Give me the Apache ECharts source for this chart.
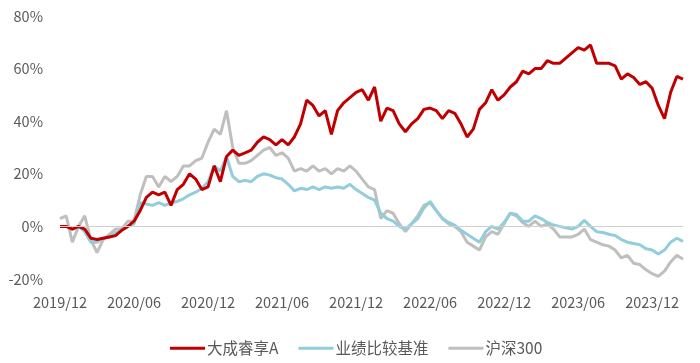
<!DOCTYPE html>
<html>
<head>
<meta charset="utf-8">
<script src="https://cdn.jsdelivr.net/npm/echarts@6/dist/echarts.min.js"></script>
<style>
html,body{margin:0;padding:0;background:#fff;}
#c{width:700px;height:363px;}
</style>
</head>
<body>
<div id="c"></div>
<script>
// Tick labels on the x axis (one every 12 half-month samples)
const tickLabels = ['2019/12','2020/06','2020/12','2021/06','2021/12','2022/06','2022/12','2023/06','2023/12'];

// Cumulative returns (%), sampled twice per month from 2019/12
const fundA = [
  0, 0, -1, 0, -1, -4.5, -5, -4.5, -4, -3.5, -1.5, 0,
  2, 6, 11, 13, 12, 13, 8, 14, 16, 20, 18, 14,
  15, 23, 17, 26.6, 29, 27, 28, 29, 32, 34, 33, 31,
  33, 31, 34, 39, 48, 46, 42, 44, 35, 44, 47, 49,
  51, 52, 48, 53, 40, 45, 44, 39, 36, 39, 41, 44.5,
  45, 44, 41, 44, 43, 39, 34, 37, 44.5, 47, 52, 48,
  50, 53, 55, 59, 58, 60, 60, 63, 62, 62, 64, 66,
  68, 67, 69, 62, 62, 62, 61, 56, 58, 56.6, 54, 55,
  52.5, 46, 41, 51, 57, 56
];
const benchmark = [
  0, 0, -1, 0, -2, -6, -6, -4.5, -4, -2.5, -1.5, 0,
  1, 9, 8.5, 8, 9, 8, 9, 9.5, 10.5, 12, 13, 14.5,
  17, 23, 21, 26.5, 19, 17, 17.5, 17, 19, 20, 19.5, 18.5,
  18, 16, 13.5, 14.5, 14, 15, 14, 15, 14.5, 15, 14.5, 16,
  14, 12.5, 11, 10, 5, 3, 2, 0, -1, 1, 3, 7,
  9.5, 6, 3, 1.5, 0.5, -1.5, -3, -4.5, -6, -2, 0, -1,
  1.5, 5, 4.5, 2, 2, 4, 3, 1.5, 0.5, 0, -0.5, -1,
  0, 2.3, 0, -2, -2.3, -3, -3.5, -5, -6, -6.5, -7, -8.5,
  -9, -10.5, -9, -6, -4.5, -5.7
];
const csi300 = [
  3, 4, -6, 0, 4, -5, -10, -5, -3, -1, -1, 2,
  2, 12, 19, 19, 15, 19, 17, 19, 23, 23, 25, 26,
  32, 37, 35, 44, 30, 24, 24, 25, 27, 29, 30, 27,
  28, 26, 21, 22, 21, 23, 21, 22, 20, 22, 21, 23,
  21, 18, 15, 14, 3, 6, 5, 1, -2, 1, 4, 8,
  9, 6, 3, 1, 0, -2, -6, -7.5, -9, -4, -2, -3,
  1, 5, 4, 1.5, 0, 2, 0, 1, -1, -4, -4, -4,
  -3, -1, -5, -6, -7, -7.5, -9, -12, -11, -14, -14.5, -16.5,
  -18, -19, -17, -13.5, -11, -12.5
];
const seriesNames = ['大成睿享A', '业绩比较基准', '沪深300'];

const categories = fundA.map((_, i) => String(i));
const font = 'Noto Sans CJK SC';

const chart = echarts.init(document.getElementById('c'), null, {renderer: 'canvas'});
chart.setOption({
  animation: false,
  backgroundColor: '#ffffff',
  textStyle: {fontFamily: font},
  grid: {left: 60, right: 17, top: 16, bottom: 84, containLabel: false},
  legend: {
    bottom: 2,
    left: 165,
    icon: 'rect',
    itemWidth: 35,
    itemHeight: 3,
    itemGap: 20,
    textStyle: {fontFamily: font, fontSize: 15.5, color: '#595959', padding: [0, 0, 0, -3]},
    data: seriesNames
  },
  xAxis: {
    type: 'category',
    data: categories,
    boundaryGap: false,
    axisLine: {show: false},
    axisTick: {show: false},
    splitLine: {show: false},
    axisLabel: {
      interval: 11,
      margin: 16,
      fontSize: 14.5,
      color: '#595959',
      fontFamily: font,
      formatter: (v, idx) => tickLabels[Math.round(Number(v) / 12)]
    }
  },
  yAxis: {
    type: 'value',
    min: -20,
    max: 80,
    interval: 20,
    axisLine: {show: false},
    axisTick: {show: false},
    splitLine: {show: false},
    axisLabel: {
      margin: 17,
      fontSize: 14.5,
      color: '#595959',
      fontFamily: font,
      formatter: v => v + '%'
    }
  },
  series: [
    {
      name: seriesNames[2], type: 'line', data: csi300, showSymbol: false, z: 2,
      lineStyle: {color: '#BFBFBF', width: 3}, itemStyle: {color: '#BFBFBF'},
      markLine: {
        silent: true, symbol: 'none', label: {show: false},
        lineStyle: {color: '#D0D0D0', width: 1, type: 'solid'},
        data: [{yAxis: 0}]
      }
    },
    {
      name: seriesNames[1], type: 'line', data: benchmark, showSymbol: false, z: 3,
      lineStyle: {color: '#92CDDC', width: 3}, itemStyle: {color: '#92CDDC'}
    },
    {
      name: seriesNames[0], type: 'line', data: fundA, showSymbol: false, z: 4,
      lineStyle: {color: '#C00000', width: 3}, itemStyle: {color: '#C00000'}
    }
  ]
});
</script>
</body>
</html>
